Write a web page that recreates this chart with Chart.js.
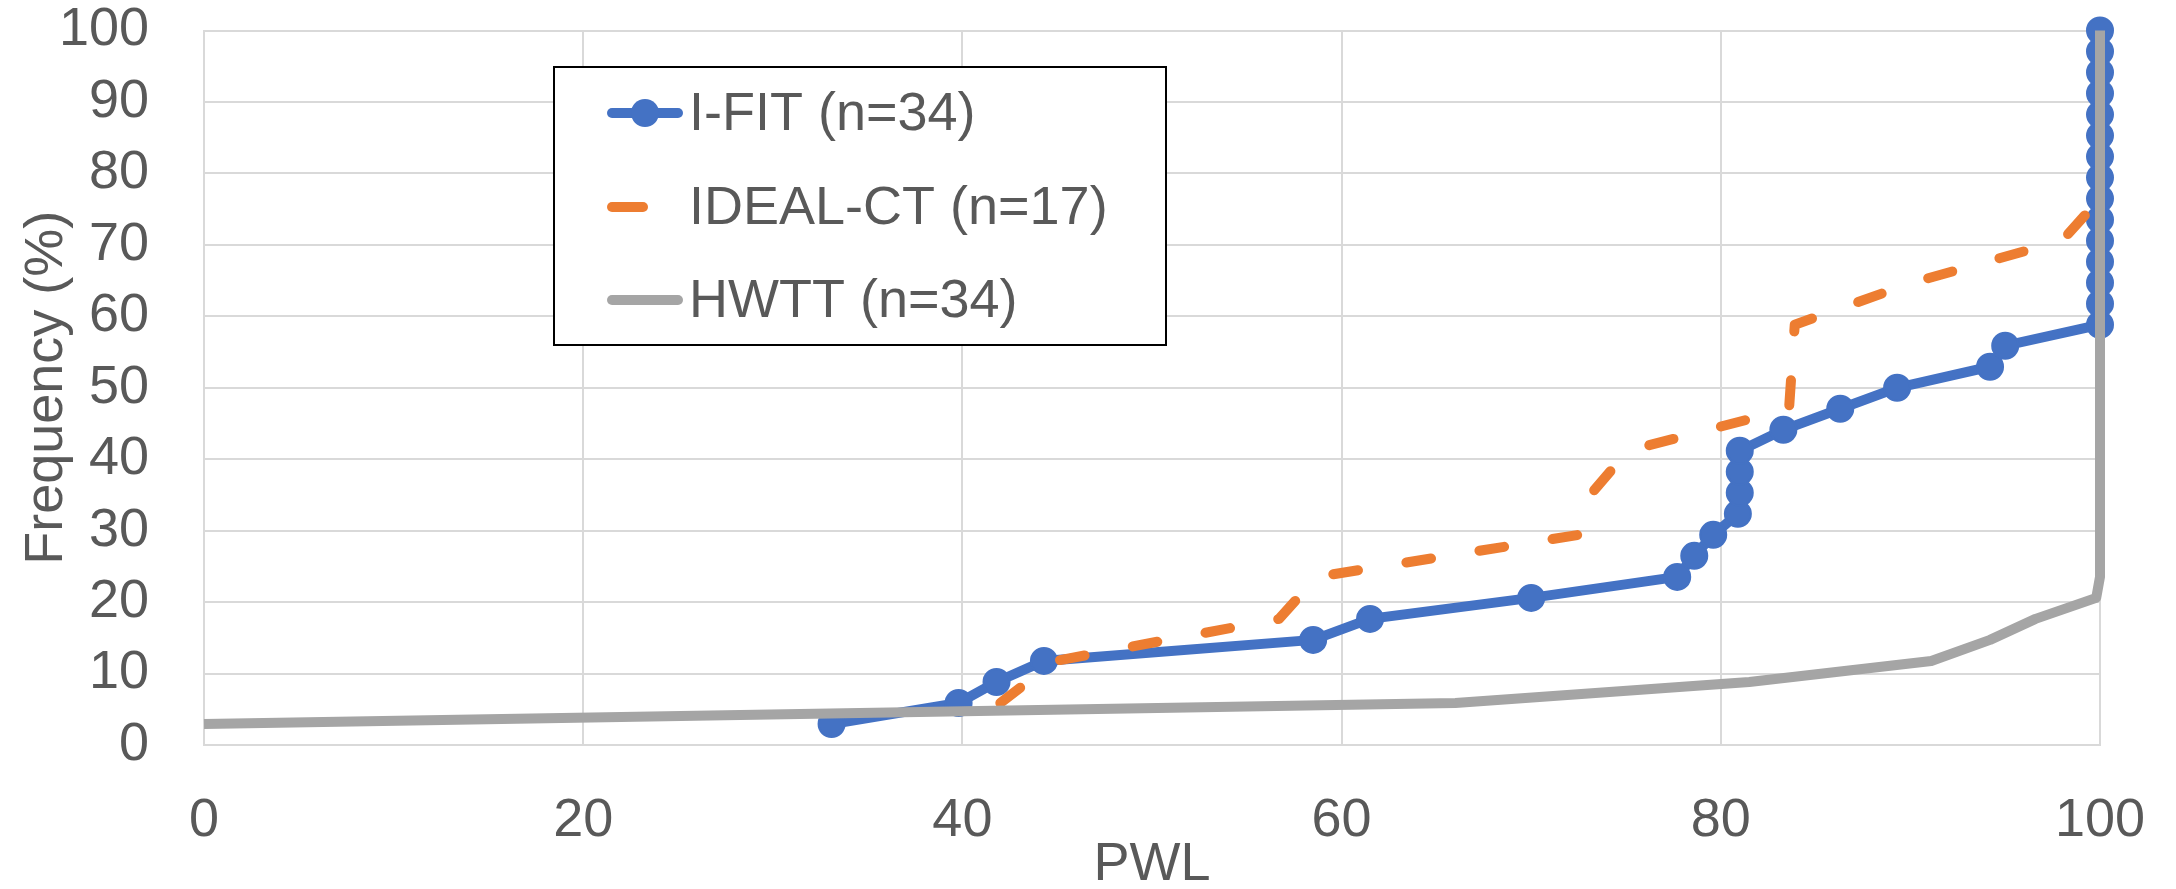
<!DOCTYPE html>
<html>
<head>
<meta charset="utf-8">
<script src="https://cdn.jsdelivr.net/npm/chart.js"></script>
<style>
  html, body { margin: 0; padding: 0; background: #ffffff; }
  #wrap { width: 2176px; height: 889px; }
</style>
</head>
<body>
<div id="wrap"><canvas id="myChart" width="2176" height="889"></canvas></div>
<script>
// series names (legend)
const seriesNames = ["I-FIT (n=34)", "IDEAL-CT (n=17)", "HWTT (n=34)"];

// I-FIT
const ifitPwl = [33.1, 39.8, 41.8, 44.3, 58.5, 61.5, 70.0, 77.7, 78.6, 79.6, 80.9, 81.0, 81.0, 81.0,
  83.3, 86.3, 89.3, 94.2, 95.0, 100, 100, 100, 100, 100, 100, 100, 100, 100, 100, 100, 100, 100, 100, 100];
const ifitFreq = [2.94, 5.88, 8.82, 11.76, 14.71, 17.65, 20.59, 23.53, 26.47, 29.41, 32.35, 35.29, 38.24, 41.18,
  44.12, 47.06, 50.0, 52.94, 55.88, 58.82, 61.76, 64.71, 67.65, 70.59, 73.53, 76.47, 79.41, 82.35, 85.29,
  88.24, 91.18, 94.12, 97.06, 100];

// IDEAL-CT
const idealPwl = [42.0, 44.9, 56.7, 58.7, 72.5, 73.2, 75.1, 83.6, 83.75, 83.9, 90.1, 98.0, 100];
const idealFreq = [5.88, 11.76, 17.65, 23.53, 29.41, 35.29, 41.18, 47.06, 52.94, 58.82, 64.71, 70.59, 76.47];

// HWTT
const hwttPwl = [0, 66.0, 81.5, 91.1, 94.2, 96.6, 99.8, 100, 100];
const hwttFreq = [2.94, 5.88, 8.82, 11.76, 14.71, 17.65, 20.59, 23.53, 100];

// axes
const xTickValues = [0, 20, 40, 60, 80, 100];
const yTickValues = [0, 10, 20, 30, 40, 50, 60, 70, 80, 90, 100];
const xTitle = "PWL";
const yTitle = "Frequency (%)";

const textColor = "#595959";
const fontFamily = "'Liberation Sans', Arial, sans-serif";

const toPoints = (xs, ys) => xs.map((x, i) => ({ x: x, y: ys[i] }));

// legend drawn inside the plot, Excel style
const boxLegend = {
  id: "boxLegend",
  afterDatasetsDraw(chart) {
    const ctx = chart.ctx;
    const rows = [113, 207, 300];
    ctx.save();
    ctx.fillStyle = "#ffffff";
    ctx.fillRect(554, 67, 612, 278);
    ctx.lineWidth = 2;
    ctx.strokeStyle = "#000000";
    ctx.strokeRect(554, 67, 612, 278);
    chart.data.datasets.forEach((ds, i) => {
      const y = rows[i];
      ctx.strokeStyle = ds.borderColor;
      ctx.lineWidth = ds.borderWidth;
      ctx.lineCap = "round";
      ctx.setLineDash([]);
      ctx.beginPath();
      ctx.moveTo(612, y);
      ctx.lineTo(ds.borderDash ? 643 : 678, y);
      ctx.stroke();
      if (ds.pointRadius > 0) {
        ctx.fillStyle = ds.pointBackgroundColor;
        ctx.beginPath();
        ctx.arc(645, y, ds.pointRadius + 1, 0, Math.PI * 2);
        ctx.fill();
      }
      ctx.fillStyle = textColor;
      ctx.font = "54px " + fontFamily;
      ctx.textAlign = "left";
      ctx.textBaseline = "middle";
      ctx.fillText(ds.label, 689, y + 2);
    });
    ctx.restore();
  }
};

const ctx = document.getElementById("myChart").getContext("2d");
new Chart(ctx, {
  type: "line",
  data: {
    datasets: [
      {
        label: seriesNames[0],
        data: toPoints(ifitPwl, ifitFreq),
        borderColor: "#4472C4",
        backgroundColor: "#4472C4",
        pointBackgroundColor: "#4472C4",
        pointBorderColor: "#4472C4",
        borderWidth: 10,
        pointRadius: 13,
        pointBorderWidth: 2,
        tension: 0,
        clip: false,
        order: 3,
      },
      {
        label: seriesNames[1],
        data: toPoints(idealPwl, idealFreq),
        borderColor: "#ED7D31",
        backgroundColor: "#ED7D31",
        borderWidth: 10,
        borderDash: [25, 49],
        borderCapStyle: "round",
        borderJoinStyle: "round",
        pointRadius: 0,
        tension: 0,
        clip: false,
        order: 2,
      },
      {
        label: seriesNames[2],
        data: toPoints(hwttPwl, hwttFreq),
        borderColor: "#A5A5A5",
        backgroundColor: "#A5A5A5",
        borderWidth: 10,
        borderJoinStyle: "round",
        pointRadius: 0,
        tension: 0,
        clip: false,
        order: 1,
      },
    ],
  },
  options: {
    responsive: false,
    animation: false,
    devicePixelRatio: 1,
    layout: { padding: { top: 30.5, right: 76, left: 0, bottom: 0 } },
    plugins: {
      legend: { display: false },
      tooltip: { enabled: false },
    },
    scales: {
      x: {
        type: "linear",
        min: 0,
        max: 100,
        afterFit: (scale) => {
          scale.height = 144;
          scale.paddingLeft = 0;
          scale.paddingRight = 0;
        },
        afterBuildTicks: (scale) => { scale.ticks = xTickValues.map((v) => ({ value: v })); },
        grid: { color: "#d9d9d9", lineWidth: 2, drawTicks: false },
        border: { color: "#d9d9d9", width: 2 },
        ticks: {
          autoSkip: false,
          maxRotation: 0,
          padding: 46,
          color: textColor,
          font: { family: fontFamily, size: 54, lineHeight: 1.1 },
        },
        title: {
          display: true,
          text: xTitle,
          color: textColor,
          padding: 0,
          font: { family: fontFamily, size: 54, lineHeight: 0.9 },
        },
      },
      y: {
        type: "linear",
        min: 0,
        max: 100,
        afterFit: (scale) => {
          scale.width = 204;
          scale.paddingTop = 0;
          scale.paddingBottom = 0;
        },
        afterBuildTicks: (scale) => { scale.ticks = yTickValues.map((v) => ({ value: v })); },
        grid: { color: "#d9d9d9", lineWidth: 2, drawTicks: false },
        border: { color: "#d9d9d9", width: 2 },
        ticks: {
          autoSkip: false,
          padding: 55,
          color: textColor,
          font: { family: fontFamily, size: 54, lineHeight: 1.1 },
        },
        title: {
          display: true,
          text: yTitle,
          color: textColor,
          padding: { top: 23, bottom: 0 },
          font: { family: fontFamily, size: 54, lineHeight: 0.9 },
        },
      },
    },
  },
  plugins: [boxLegend],
});
</script>
</body>
</html>
